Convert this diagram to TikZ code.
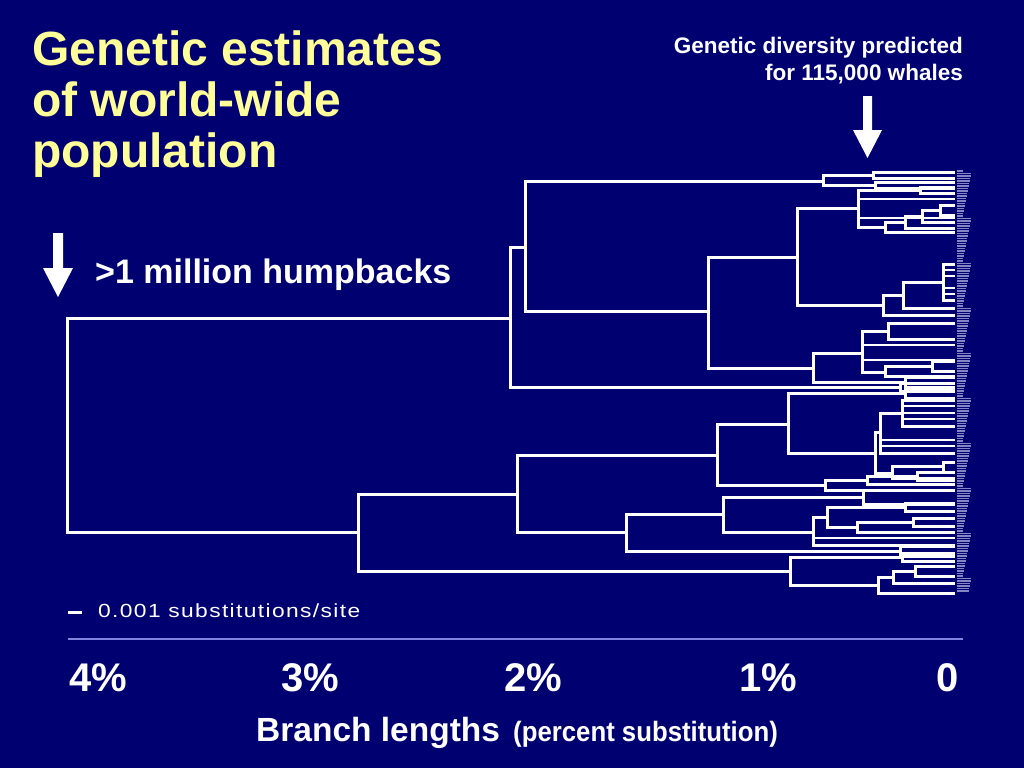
\documentclass[tikz,border=0pt]{standalone}
\usepackage{fontspec}
\setmainfont{Liberation Sans}
\usepackage{graphicx}
\usetikzlibrary{positioning}
\definecolor{slidebg}{RGB}{0,0,112}
\definecolor{titleyellow}{RGB}{255,255,153}
\definecolor{rulelilac}{RGB}{130,130,225}
\definecolor{leafgrey}{RGB}{190,190,235}
\tikzset{
  branch/.style={draw=white, line width=3pt, line join=miter},
  twig/.style={draw=white, line width=1.8pt},
  leaftag/.style={draw=leafgrey, line width=1.1pt, opacity=0.7},
  titletext/.style={text=titleyellow, inner sep=0pt, anchor=base west,
    font=\fontsize{48}{51}\selectfont\bfseries},
  notetext/.style={text=white, inner sep=0pt, font=\bfseries},
  axislab/.style={text=white, inner sep=0pt, anchor=base,
    font=\fontsize{40}{44}\selectfont\bfseries},
  blockarrow/.style={fill=white}
}
\begin{document}
\begin{tikzpicture}[x=1pt,y=-1pt]
        % Background
        \fill[slidebg] (0,0) rectangle (1024,768);
        \useasboundingbox (0,0) rectangle (1024,768);
        % Title
        \node[titletext] (title1) at (32,65) {Genetic estimates};
        \node[titletext] (title2) at (32,116) {of world-wide};
        \node[titletext] (title3) at (32,167) {population};
        % Notes and arrows
        \node[notetext, anchor=base east, font=\fontsize{22.5}{27}\selectfont\bfseries]
            (note1) at (963,53) {Genetic diversity predicted};
        \node[notetext, anchor=base east, font=\fontsize{22.5}{27}\selectfont\bfseries]
            (note2) at (963,80) {for 115,000 whales};
        \fill[blockarrow] (863,96) -- (872,96) -- (872,130) -- (882,130) -- (867.5,158)
            -- (853,130) -- (863,130) -- cycle;
        \node[notetext, anchor=base west, font=\fontsize{34}{40}\selectfont\bfseries]
            (million) at (95,283) {>1 million humpbacks};
        \fill[blockarrow] (53,233) -- (63,233) -- (63,268) -- (73,268) -- (58,297)
            -- (43,268) -- (53,268) -- cycle;
        % Tree: node x / top y / bottom y / top child x / bottom child x
        \foreach \x/\ya/\yb/\xa/\xb in {
            67/318/532/510/358,
            510/247/387/525/900, 525/181/311/823/708,
            823/175/185/873/875, 873/172/178/955/955, 875/182/188/955/955,
            708/257/368/797/813, 797/208/305/858/883,
            858/190/227/920/885, 920/187/193/955/955, 885/222/232/905/955,
            905/216/228/922/955, 922/210/222/940/955, 940/205/215/955/955,
            883/295/315/903/955, 903/282/308/943/955, 943/264/300/955/955,
            813/353/382/862/905, 862/331/372/888/885, 888/323/339/955/955,
            885/366/376/932/955, 932/361/371/955/955, 905/377/387/955/955,
            900/383/391/955/955,
            358/494/571/517/790, 517/455/532/717/626,
            717/424/485/788/825, 788/393/453/905/875, 905/388/398/955/955,
            875/432/473/880/892, 880/413/453/902/955, 902/400/426/955/955,
            892/466/478/943/955, 943/462/472/955/955,
            825/480/490/867/955, 867/476/484/917/955, 917/472/480/955/955,
            626/514/551/723/900, 900/546/556/955/955,
            723/497/532/863/813, 863/490/504/955/955,
            813/517/545/827/955, 827/507/527/905/857, 905/503/511/955/955,
            857/522/532/913/955, 913/518/526/955/955,
            790/557/585/902/878, 902/553/561/955/955,
            878/577/593/893/955, 893/571/583/915/955, 915/566/576/955/955}
          \draw[branch] (\xa,\ya) -- (\x,\ya) -- (\x,\yb) -- (\xb,\yb);
        % Extra leaves in dense clades
        \foreach \x/\y in {943/270, 943/276, 943/288, 943/294, 902/406, 902/413, 902/419,
            880/440, 880/446, 858/199, 858/218, 862/345, 862/360, 813/538}
          \draw[twig] (\x,\y) -- (955,\y);
        % Leaf tags
        \foreach \y in {171,173.5,...,592}
          \draw[leaftag] (957,\y) -- ({963+mod(int(\y*7),9)},\y);
        % Scale bar
        \draw[white, line width=3pt] (68,612) -- (82,612);
        \node[text=white, inner sep=0pt, anchor=base west] (scalelab) at (98,617)
            {\scalebox{1.2}[1]{\fontsize{19}{22}\selectfont\addfontfeature{LetterSpace=6}0.001 substitutions/site}};
        % Axis
        \draw[rulelilac, line width=2pt] (68,639) -- (963,639);
        \node[axislab] (p4) at (98,691) {4\%};
        \node[axislab] (p3) at (310,691) {3\%};
        \node[axislab] (p2) at (533,691) {2\%};
        \node[axislab] (p1) at (768,691) {1\%};
        \node[axislab] (p0) at (948,691) {0};
        \node[notetext, anchor=base west, font=\fontsize{33.5}{38}\selectfont\bfseries]
            (blen) at (256,741) {Branch lengths};
        \node[notetext, anchor=base west] (pct) at (513,741)
            {\scalebox{0.92}[1]{\fontsize{28}{32}\selectfont\bfseries(percent substitution)}};
    \end{tikzpicture}
\end{document}
